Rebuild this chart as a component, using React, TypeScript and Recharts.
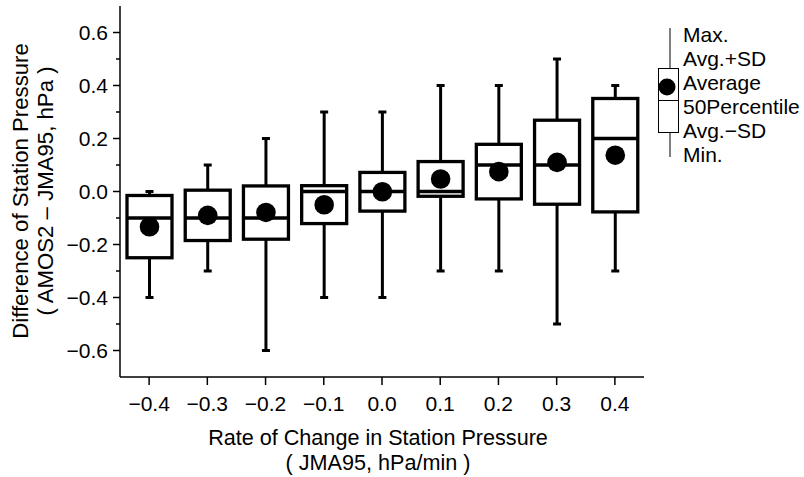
import React from 'react';
import { ComposedChart, Bar, XAxis, YAxis, Legend } from 'recharts';

const categories = ['\u22120.4', '\u22120.3', '\u22120.2', '\u22120.1', '0.0', '0.1', '0.2', '0.3', '0.4'];
const maxVals = [0.0, 0.1, 0.2, 0.3, 0.3, 0.4, 0.4, 0.5, 0.4];
const avgPlusSd = [-0.015, 0.005, 0.021, 0.022, 0.072, 0.113, 0.178, 0.269, 0.351];
const avgVals = [-0.133, -0.09, -0.079, -0.05, -0.001, 0.047, 0.075, 0.11, 0.137];
const medianVals = [-0.1, -0.1, -0.1, 0.0, 0.0, 0.0, 0.1, 0.1, 0.2];
const avgMinusSd = [-0.25, -0.185, -0.18, -0.121, -0.074, -0.018, -0.028, -0.048, -0.077];
const minVals = [-0.4, -0.3, -0.6, -0.4, -0.4, -0.3, -0.3, -0.5, -0.3];

const yTicks = [-0.6, -0.5, -0.4, -0.3, -0.2, -0.1, 0, 0.1, 0.2, 0.3, 0.4, 0.5, 0.6];
const yMajor = [-0.6, -0.4, -0.2, 0, 0.2, 0.4, 0.6];
const legendLabels = ['Max.', 'Avg.+SD', 'Average', '50Percentile', 'Avg.\u2212SD', 'Min.'];

const data = categories.map((c, i) => ({
  cat: c,
  max: maxVals[i],
  hi: avgPlusSd[i],
  avg: avgVals[i],
  med: medianVals[i],
  lo: avgMinusSd[i],
  min: minVals[i],
}));

const FONT = 'Liberation Sans, Arial, sans-serif';

function BoxShape(props: any) {
  const { x, y, width, height, payload } = props;
  const top = Math.min(y, y + height);
  const h = Math.abs(height);
  const py = (v: number) => top + ((payload.max - v) * h) / (payload.max - payload.min);
  const cx = x + width / 2;
  const sw = 3.3;
  return (
    <g>
      <line x1={cx} x2={cx} y1={py(payload.max)} y2={py(payload.min)} stroke="#000" strokeWidth={3} />
      <line x1={cx - 4} x2={cx + 4} y1={py(payload.max)} y2={py(payload.max)} stroke="#000" strokeWidth={3} />
      <line x1={cx - 4} x2={cx + 4} y1={py(payload.min)} y2={py(payload.min)} stroke="#000" strokeWidth={3} />
      <rect x={x} y={py(payload.hi)} width={width} height={py(payload.lo) - py(payload.hi)} fill="#fff" stroke="#000" strokeWidth={sw} />
      <line x1={x} x2={x + width} y1={py(payload.med)} y2={py(payload.med)} stroke="#000" strokeWidth={sw} />
      <circle cx={cx} cy={py(payload.avg)} r={9.8} fill="#000" />
    </g>
  );
}

function YTick(props: any) {
  const { x, y, payload } = props;
  const v = payload.value;
  const major = yMajor.some((m) => Math.abs(m - v) < 1e-9);
  const label = v < 0 ? '\u2212' + Math.abs(v).toFixed(1) : v.toFixed(1);
  return (
    <g>
      <line x1={x - (major ? 7 : 4)} x2={x} y1={y} y2={y} stroke="#000" strokeWidth={1.5} />
      {major && (
        <text x={x - 12} y={y} textAnchor="end" dominantBaseline="central" fontSize={21} fontFamily={FONT} fill="#000">
          {label}
        </text>
      )}
    </g>
  );
}

function XTitle() {
  return (
    <g>
      <text x={378} y={437} textAnchor="middle" dominantBaseline="central" fontSize={21.6} fontFamily={FONT} fill="#000">
        Rate of Change in Station Pressure
      </text>
      <text x={378} y={462} textAnchor="middle" dominantBaseline="central" fontSize={21.6} fontFamily={FONT} fill="#000">
        {'( JMA95, hPa/min )'}
      </text>
    </g>
  );
}

function YTitle() {
  return (
    <g>
      <text x={20} y={191} transform="rotate(-90 20 191)" textAnchor="middle" dominantBaseline="central" fontSize={22.2} fontFamily={FONT} fill="#000">
        Difference of Station Pressure
      </text>
      <text x={45} y={191} transform="rotate(-90 45 191)" textAnchor="middle" dominantBaseline="central" fontSize={22.2} fontFamily={FONT} fill="#000">
        {'( AMOS2 \u2013 JMA95, hPa )'}
      </text>
    </g>
  );
}

function LegendBox() {
  return (
    <svg width={164} height={180} style={{ display: 'block' }}>
      <line x1={30} x2={30} y1={28} y2={157} stroke="#000" strokeWidth={1} />
      <rect x={18.5} y={68.5} width={20} height={64} fill="#fff" stroke="#000" strokeWidth={1} />
      <line x1={18.5} x2={38.5} y1={100.5} y2={100.5} stroke="#000" strokeWidth={1} />
      <circle cx={27} cy={87} r={8.5} fill="#000" />
      {legendLabels.map((t, i) => (
        <text key={t} x={43} y={34 + i * 24} dominantBaseline="central" fontSize={21} fontFamily={FONT} fill="#000">
          {t}
        </text>
      ))}
    </svg>
  );
}

export default function App() {
  return (
    <div style={{ position: 'absolute', left: 0, top: 0, background: '#fff' }}>
      <ComposedChart width={804} height={477} data={data} margin={{ top: 6, right: 160, left: 0, bottom: 0 }}>
        <XAxis
          dataKey="cat"
          type="category"
          height={100}
          tickSize={8}
          tickMargin={11}
          stroke="#000"
          strokeWidth={1.5}
          tick={{ fontSize: 21, fontFamily: FONT, fill: '#000' }}
          label={{ content: () => <XTitle /> }}
        />
        <XAxis xAxisId="top" dataKey="cat" orientation="top" height={0} tick={false} tickLine={false} stroke="#000" strokeWidth={1.5} />
        <YAxis
          type="number"
          domain={[-0.7, 0.7]}
          ticks={yTicks}
          width={120}
          tickSize={0}
          tickMargin={0}
          tickLine={false}
          stroke="#000"
          strokeWidth={1.5}
          tick={<YTick />}
          interval={0}
          label={{ content: () => <YTitle /> }}
        />
        <YAxis yAxisId="right" orientation="right" type="number" domain={[-0.7, 0.7]} width={0} tick={false} tickLine={false} stroke="#000" strokeWidth={1.5} />
        <Legend
          layout="vertical"
          align="center"
          verticalAlign="middle"
          content={() => <LegendBox />}
          wrapperStyle={{ position: 'absolute', left: 640, top: 0, width: 164, height: 180 }}
        />
        <Bar dataKey={(d: any) => [d.min, d.max]} barSize={45} shape={<BoxShape />} isAnimationActive={false} />
      </ComposedChart>
    </div>
  );
}
